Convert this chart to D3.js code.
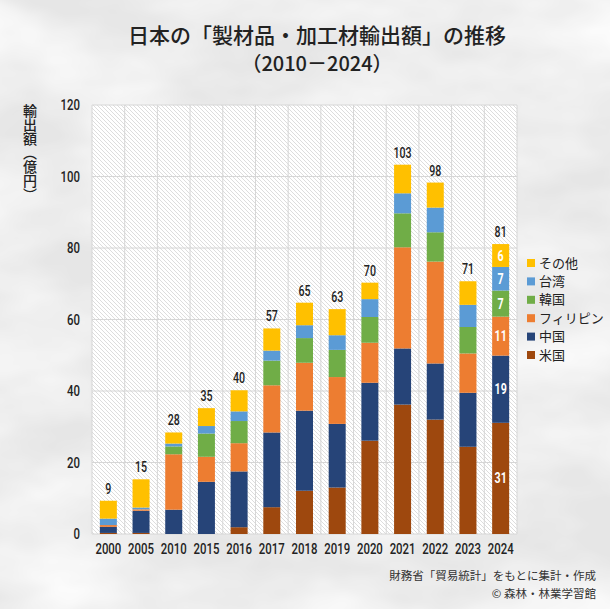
<!DOCTYPE html>
<html><head><meta charset="utf-8">
<script src="https://cdn.jsdelivr.net/npm/d3@7"></script>
<style>
html,body{margin:0;padding:0;background:#eeeeee;}
svg{display:block;}
</style></head>
<body>
<script>
const years = ["2000","2005","2010","2015","2016","2017","2018","2019","2020","2021","2022","2023","2024"];
const seriesNames = ["米国","中国","フィリピン","韓国","台湾","その他"];
const colors = ["#9E480E","#264478","#ED7D31","#70AD47","#5B9BD5","#FFC000"];
const usa      = [0.3, 0.3, 0.0, 0.0, 1.9, 7.5, 12.1, 13.0, 26.1, 36.2, 32.0, 24.4, 31.1];
const china    = [1.7, 6.2, 6.8, 14.6, 15.6, 20.9, 22.4, 17.8, 16.2, 15.7, 15.7, 15.1, 18.8];
const phil     = [0.5, 0.4, 15.5, 7.0, 7.9, 13.2, 13.4, 13.1, 11.2, 28.3, 28.5, 11.0, 10.9];
const korea    = [0.0, 0.0, 2.2, 6.5, 6.2, 6.9, 6.9, 7.6, 7.2, 9.5, 8.2, 7.4, 7.3];
const taiwan   = [1.8, 0.5, 0.8, 2.1, 2.7, 2.8, 3.6, 4.1, 5.0, 5.6, 6.9, 6.2, 6.6];
const others   = [5.0, 7.9, 3.1, 5.0, 5.9, 6.2, 6.3, 7.3, 4.6, 8.0, 7.0, 6.6, 6.4];
const yTicks = [0,20,40,60,80,100,120];
const labelYear = "2024";

const W=610,H=609;
const margin={left:92,right:93,top:105,bottom:75};
const svg=d3.select("body").append("svg").attr("width",W).attr("height",H);
const defs=svg.append("defs");
const f=defs.append("filter").attr("id","marble").attr("x",0).attr("y",0).attr("width","100%").attr("height","100%");
f.append("feTurbulence").attr("type","fractalNoise").attr("baseFrequency","0.006 0.012").attr("numOctaves",4).attr("seed",7).attr("result","n");
f.append("feColorMatrix").attr("in","n").attr("type","matrix")
 .attr("values","0 0 0 0 1  0 0 0 0 1  0 0 0 0 1  0 0 0 -1.6 1.15");
svg.append("rect").attr("width",W).attr("height",H).attr("fill","#e6e6e6");
svg.append("rect").attr("width",W).attr("height",H).attr("filter","url(#marble)");

const pat=defs.append("pattern").attr("id","hatch").attr("patternUnits","userSpaceOnUse").attr("width",4).attr("height",4);
pat.append("rect").attr("width",4).attr("height",4).attr("fill","#ffffff");
pat.append("path").attr("d","M-1,-1 L5,5 M-1,3 L1,5 M3,-1 L5,1").attr("stroke","#d4d4d4").attr("stroke-width",0.8);

const x=d3.scaleBand().domain(years).range([margin.left,W-margin.right]).paddingInner(0.48).paddingOuter(0.24);
const y=d3.scaleLinear().domain([0,120]).range([H-margin.bottom,margin.top]);

const x0=margin.left,x1=W-margin.right,y0=y(0),y1=y(120);
svg.append("rect").attr("x",x0).attr("y",y1).attr("width",x1-x0).attr("height",y0-y1).attr("fill","url(#hatch)");

const gridC="#d6d6d6";
svg.append("g").selectAll("line").data(yTicks).join("line")
 .attr("x1",x0).attr("x2",x1).attr("y1",d=>y(d)).attr("y2",d=>y(d)).attr("stroke",gridC).attr("stroke-width",1);
const bounds=d3.range(years.length+1).map(i=>x0+i*(x1-x0)/years.length);
svg.append("g").selectAll("line").data(bounds).join("line")
 .attr("x1",d=>d).attr("x2",d=>d).attr("y1",y1).attr("y2",y0).attr("stroke",gridC).attr("stroke-width",1);

const numFont='Roboto,"Noto Sans",sans-serif';
const jpFont='"Noto Sans CJK JP","Noto Sans",sans-serif';
const SX=0.76;
function condense(sel){
  sel.each(function(){
    const t=d3.select(this);
    const tx=+t.attr("x")||0, ty=+t.attr("y")||0;
    t.attr("x",0).attr("y",0).attr("transform",`translate(${tx},${ty}) scale(${SX},1)`);
  });
}

const yAxis=d3.axisLeft(y).tickValues(yTicks).tickSize(0).tickPadding(12);
const ga=svg.append("g").attr("transform",`translate(${x0},0)`).call(yAxis);
ga.select(".domain").remove();
ga.selectAll("text").attr("font-family",numFont).attr("font-size",15).attr("font-weight",500).attr("fill","#222")
 .each(function(){const t=d3.select(this);t.attr("transform",`translate(-12,0) scale(${SX},1)`).attr("x",0);});

const xAxis=d3.axisBottom(x).tickSize(0).tickPadding(9);
const gx=svg.append("g").attr("transform",`translate(0,${y0})`).call(xAxis);
gx.select(".domain").remove();
gx.selectAll("text").attr("font-family",numFont).attr("font-size",15).attr("font-weight",500).attr("fill","#222")
 .each(function(){const t=d3.select(this);t.attr("transform",`translate(0,9) scale(${SX},1)`).attr("y",0).attr("dy","0.71em");});

const table=years.map((yr,i)=>({year:yr,"米国":usa[i],"中国":china[i],"フィリピン":phil[i],"韓国":korea[i],"台湾":taiwan[i],"その他":others[i]}));
const stack=d3.stack().keys(seriesNames)(table);
const bw=17;
svg.append("g").selectAll("g").data(stack).join("g").attr("fill",(d,i)=>colors[i])
 .selectAll("rect").data(d=>d).join("rect")
 .attr("x",d=>x(d.data.year)+x.bandwidth()/2-bw/2).attr("width",bw)
 .attr("y",d=>y(d[1])).attr("height",d=>Math.max(0,y(d[0])-y(d[1])));

svg.append("g").selectAll("text").data(table).join("text")
 .attr("x",d=>x(d.year)+x.bandwidth()/2)
 .attr("y",d=>y(d3.sum(seriesNames,k=>d[k]))-7)
 .attr("text-anchor","middle").attr("font-family",numFont).attr("font-size",14).attr("font-weight",500).attr("fill","#222")
 .text(d=>Math.round(d3.sum(seriesNames,k=>d[k])))
 .call(condense);

const lastIdx=years.indexOf(labelYear);
svg.append("g").selectAll("text").data(stack.map(s=>s[lastIdx])).join("text")
 .attr("x",d=>x(d.data.year)+x.bandwidth()/2)
 .attr("y",d=>(y(d[0])+y(d[1]))/2+5)
 .attr("text-anchor","middle").attr("font-family",numFont).attr("font-size",14).attr("font-weight",700).attr("fill","#fff")
 .text(d=>Math.round(d[1]-d[0]))
 .call(condense);

const legItems=seriesNames.map((n,i)=>({n,c:colors[i]})).reverse();
const lg=svg.append("g").selectAll("g").data(legItems).join("g").attr("transform",(d,i)=>`translate(527,${263+i*18.4})`);
lg.append("rect").attr("x",0).attr("y",-4).attr("width",8).attr("height",8).attr("fill",d=>d.c);
lg.append("text").attr("x",12).attr("dy","0.36em").attr("font-family",jpFont).attr("font-size",13).attr("fill","#222").text(d=>d.n);

svg.append("text").attr("x",317).attr("y",43).attr("text-anchor","middle").attr("font-family",jpFont).attr("font-size",21).attr("font-weight",500).attr("fill","#222").text("日本の「製材品・加工材輸出額」の推移");
svg.append("text").attr("x",317).attr("y",71).attr("text-anchor","middle").attr("font-family",jpFont).attr("font-size",20).attr("font-weight",500).attr("fill","#222").text("（2010－2024）");

svg.append("text").attr("x",30).attr("y",104).attr("font-family",jpFont).attr("font-size",14).attr("font-weight",500).attr("fill","#222")
 .style("writing-mode","vertical-rl").text("輸出額（億円）");

svg.append("text").attr("x",596).attr("y",580).attr("text-anchor","end").attr("font-family",jpFont).attr("font-size",11.5).attr("fill","#333")
 .text("財務省「貿易統計」をもとに集計・作成");
svg.append("text").attr("x",596).attr("y",598).attr("text-anchor","end").attr("font-family",jpFont).attr("font-size",11.5).attr("fill","#333").text("© 森林・林業学習館");
</script>
</body></html>
